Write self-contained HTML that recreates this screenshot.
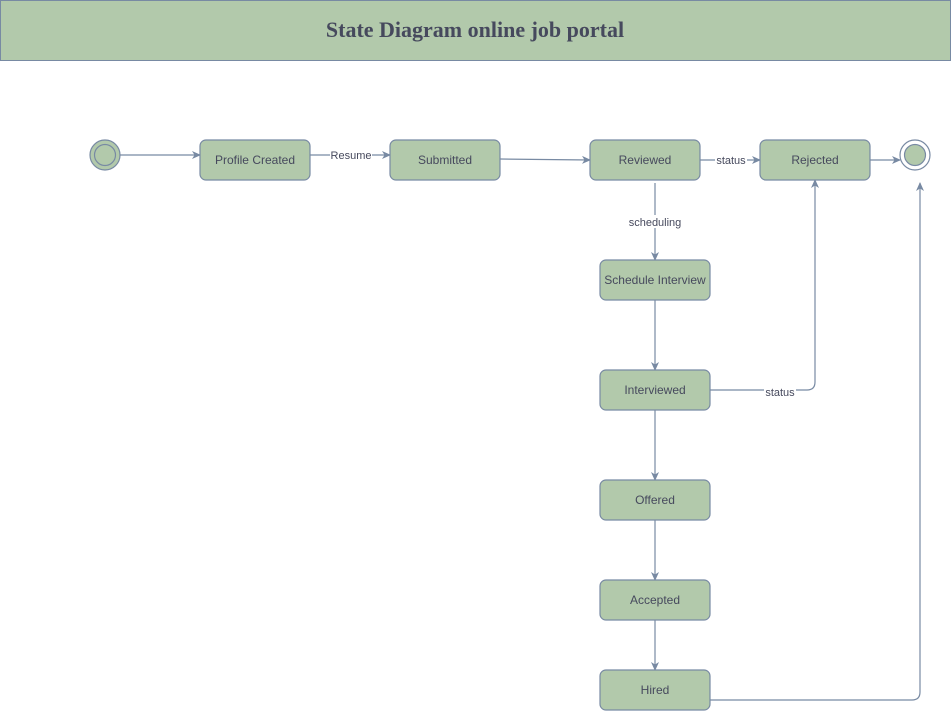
<!DOCTYPE html>
<html><head><meta charset="utf-8"><style>
html,body{margin:0;padding:0;background:#fff;}
svg{display:block;}
</style></head><body>
<svg width="951" height="711" viewBox="0 0 951 711" xmlns="http://www.w3.org/2000/svg" font-family="Liberation Sans, Arial, sans-serif">
<defs>
<marker id="a" markerWidth="10" markerHeight="10" refX="8" refY="5" orient="auto" markerUnits="userSpaceOnUse">
<path d="M0,1 L9,5 L0,9 L2.5,5 Z" fill="#788aa3"/>
</marker>
</defs>
<rect x="0.5" y="0.5" width="950" height="60" fill="#b2c9ab" stroke="#788aa3"/>
<text x="475" y="37" text-anchor="middle" font-family="Liberation Serif, serif" font-weight="bold" font-size="22" fill="#46495d">State Diagram online job portal</text>

<g stroke="#788aa3" stroke-width="1.2" fill="none">
<line x1="120" y1="155" x2="200" y2="155" marker-end="url(#a)"/>
<line x1="310" y1="155" x2="390" y2="155" marker-end="url(#a)"/>
<line x1="500" y1="159" x2="590" y2="160" marker-end="url(#a)"/>
<line x1="700" y1="160" x2="760" y2="160" marker-end="url(#a)"/>
<line x1="870" y1="160" x2="900" y2="160" marker-end="url(#a)"/>
<line x1="655" y1="183" x2="655" y2="260" marker-end="url(#a)"/>
<line x1="655" y1="300" x2="655" y2="370" marker-end="url(#a)"/>
<path d="M710,390 L807,390 Q815,390 815,382 L815,180" marker-end="url(#a)"/>
<line x1="655" y1="410" x2="655" y2="480" marker-end="url(#a)"/>
<line x1="655" y1="520" x2="655" y2="580" marker-end="url(#a)"/>
<line x1="655" y1="620" x2="655" y2="670" marker-end="url(#a)"/>
<path d="M710,700 L912,700 Q920,700 920,692 L920,183" marker-end="url(#a)"/>
</g>

<g font-size="11" fill="#46495d" text-anchor="middle">
<rect x="330" y="148" width="42" height="13" fill="#fff"/>
<text x="351" y="159">Resume</text>
<rect x="715" y="153" width="32" height="13" fill="#fff"/>
<text x="731" y="164">status</text>
<rect x="627" y="215" width="56" height="13" fill="#fff"/>
<text x="655" y="226">scheduling</text>
<rect x="764" y="385" width="32" height="13" fill="#fff"/>
<text x="780" y="396">status</text>
</g>

<circle cx="105" cy="155" r="15" fill="#b2c9ab" stroke="#788aa3" stroke-width="1.2"/>
<circle cx="105" cy="155" r="10.5" fill="#b2c9ab" stroke="#788aa3" stroke-width="1.2"/>
<circle cx="915" cy="155" r="15" fill="#fff" stroke="#788aa3" stroke-width="1.2"/>
<circle cx="915" cy="155" r="10.5" fill="#b2c9ab" stroke="#788aa3" stroke-width="1.2"/>

<g fill="#b2c9ab" stroke="#788aa3" stroke-width="1.2">
<rect x="200" y="140" width="110" height="40" rx="6"/>
<rect x="390" y="140" width="110" height="40" rx="6"/>
<rect x="590" y="140" width="110" height="40" rx="6"/>
<rect x="760" y="140" width="110" height="40" rx="6"/>
<rect x="600" y="260" width="110" height="40" rx="6"/>
<rect x="600" y="370" width="110" height="40" rx="6"/>
<rect x="600" y="480" width="110" height="40" rx="6"/>
<rect x="600" y="580" width="110" height="40" rx="6"/>
<rect x="600" y="670" width="110" height="40" rx="6"/>
</g>
<g font-size="12" fill="#46495d" text-anchor="middle">
<text x="255" y="164">Profile Created</text>
<text x="445" y="164">Submitted</text>
<text x="645" y="164">Reviewed</text>
<text x="815" y="164">Rejected</text>
<text x="655" y="284">Schedule Interview</text>
<text x="655" y="394">Interviewed</text>
<text x="655" y="504">Offered</text>
<text x="655" y="604">Accepted</text>
<text x="655" y="694">Hired</text>
</g>
</svg>
</body></html>
